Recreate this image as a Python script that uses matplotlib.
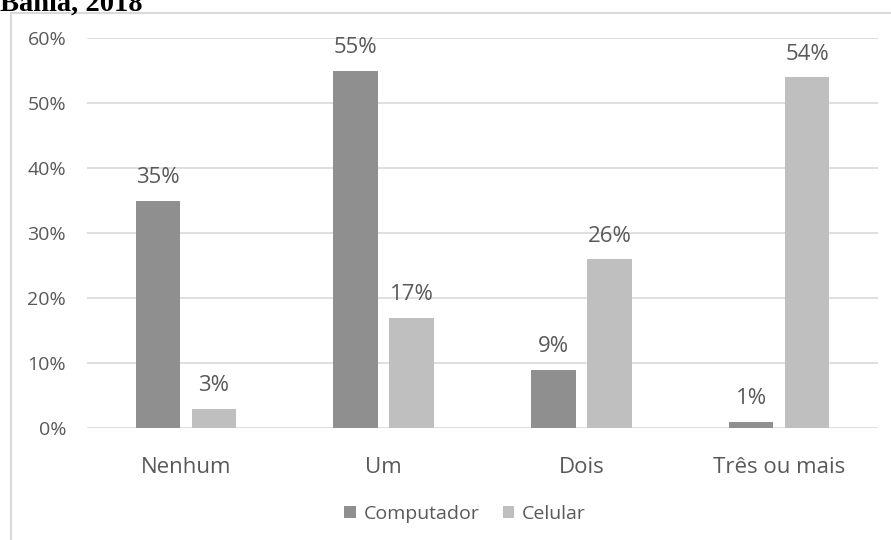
import matplotlib
matplotlib.use("Agg")
import matplotlib.pyplot as plt
from matplotlib.patches import Rectangle
from matplotlib.ticker import FuncFormatter
import numpy as np

categories = ["Nenhum", "Um", "Dois", "Três ou mais"]
computador = [35, 55, 9, 1]
celular = [3, 17, 26, 54]
series_names = ["Computador", "Celular"]
yticks = [0, 10, 20, 30, 40, 50, 60]
title = "Bahia, 2018"

plt.rcParams['font.family'] = ['Open Sans', 'DejaVu Sans']
txt = "#595959"
c_dark = "#8f8f8f"
c_light = "#bfbfbf"
grid = "#d9d9d9"

fig = plt.figure(figsize=(8.91, 5.4), dpi=100)
ax = fig.add_axes([87/891, 1-428/540, (878-87)/891, (428-38)/540])

x = np.arange(len(categories))
w = 0.225
off = 0.1416
b1 = ax.bar(x - off, computador, w, color=c_dark, label=series_names[0], zorder=3)
b2 = ax.bar(x + off, celular, w, color=c_light, label=series_names[1], zorder=3)

for bars, vals in ((b1, computador), (b2, celular)):
    for r, v in zip(bars, vals):
        ax.annotate(f"{v}%", (r.get_x() + r.get_width()/2, v), xytext=(0, 9),
                    textcoords="offset points", ha="center", va="bottom",
                    fontsize=16, color=txt)

ax.set_xlim(-0.5, len(categories) - 0.5)
ax.set_ylim(0, 60)
ax.set_yticks(yticks)
ax.yaxis.set_major_formatter(FuncFormatter(lambda v, p: f"{int(v)}%"))
ax.set_xticks(x)
ax.set_xticklabels(categories)
ax.tick_params(axis="y", length=0, pad=15, labelsize=14, labelcolor=txt)
ax.tick_params(axis="x", length=0, pad=21, labelsize=16, labelcolor=txt)
ax.grid(axis="y", color=grid, linewidth=1.2, zorder=0)
for s in ax.spines.values():
    s.set_visible(False)

leg = fig.legend(handles=[b1, b2], labels=series_names, loc="center",
                 bbox_to_anchor=(465/891, 1-514/540), ncol=2, frameon=False,
                 fontsize=14, handlelength=0.6, handleheight=0.6,
                 handletextpad=0.4, columnspacing=1.2)
for t in leg.get_texts():
    t.set_color(txt)

fig.patches.append(Rectangle((11/891, -0.1), 1.0, 1 - 13/540 + 0.1, transform=fig.transFigure,
                             fill=False, edgecolor=grid, linewidth=1.5))
fig.text(0, 1 - 11/540, title, fontsize=20.5, fontweight="bold",
         family="Liberation Serif", ha="left", va="baseline", color="black")

fig.savefig("out.png", dpi=100)
